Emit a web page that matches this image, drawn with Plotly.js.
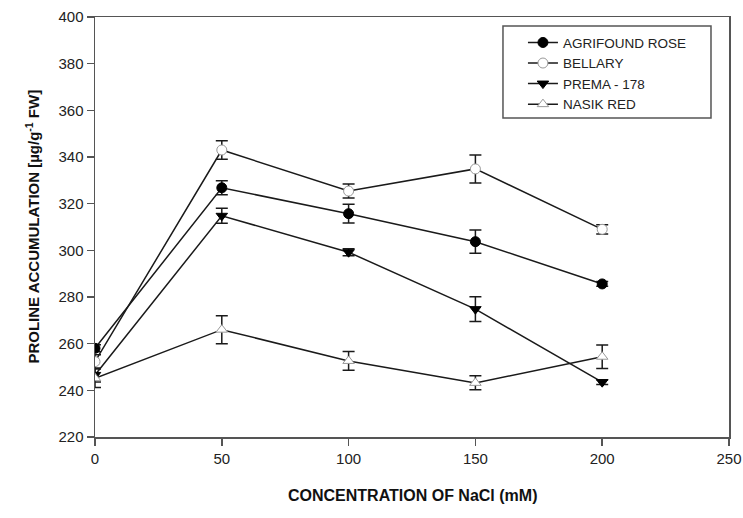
<!DOCTYPE html>
<html>
<head>
<meta charset="utf-8">
<script src="https://cdn.plot.ly/plotly-3.0.1.min.js"></script>
<style>html,body{margin:0;padding:0;background:#fff;}#chart{width:743px;height:518px;}</style>
</head>
<body>
<div id="chart"></div>
<script>
// NaCl concentration (mM)
const nacl = [0, 50, 100, 150, 200];

// Proline accumulation (µg/g FW) per variety, with error bars
const agrifoundRose = [258.0, 326.8, 315.7, 303.7, 285.6];
const agrifoundRoseErr = [1.5, 3.0, 4.0, 5.0, 1.0];

const bellary = [252.3, 343.0, 325.4, 334.9, 309.0];
const bellaryErr = [3.0, 4.0, 3.0, 6.0, 2.0];

const prema178 = [246.6, 314.8, 299.2, 274.8, 243.5];
const prema178Err = [3.0, 3.2, 1.5, 5.3, 1.0];

const nasikRed = [245.2, 266.0, 252.6, 243.2, 254.4];
const nasikRedErr = [4.0, 6.0, 4.0, 3.0, 5.0];

const seriesNames = ["AGRIFOUND ROSE", "BELLARY", "PREMA - 178", "NASIK RED"];

const lineStyle = {color: '#1a1a1a', width: 1.5};
const errStyle = (arr) => ({type: 'data', array: arr, visible: true, color: '#1a1a1a', thickness: 1.5, width: 6});

const traces = [
  {x: nacl, y: agrifoundRose, error_y: errStyle(agrifoundRoseErr), name: seriesNames[0],
   mode: 'lines+markers', line: lineStyle,
   marker: {symbol: 'circle', size: 10, color: '#000', line: {color: '#000', width: 1}}},
  {x: nacl, y: bellary, error_y: errStyle(bellaryErr), name: seriesNames[1],
   mode: 'lines+markers', line: lineStyle,
   marker: {symbol: 'circle', size: 10, color: '#fff', line: {color: '#999', width: 1}}},
  {x: nacl, y: prema178, error_y: errStyle(prema178Err), name: seriesNames[2],
   mode: 'lines+markers', line: lineStyle,
   marker: {symbol: 'triangle-down', size: 10, color: '#000', line: {color: '#000', width: 1}}},
  {x: nacl, y: nasikRed, error_y: errStyle(nasikRedErr), name: seriesNames[3],
   mode: 'lines+markers', line: lineStyle,
   marker: {symbol: 'triangle-up', size: 10, color: '#fff', line: {color: '#999', width: 1}}}
];

const fam = 'Liberation Sans, Arial, sans-serif';
const tickFont = {family: fam, size: 15, color: '#222'};

const layout = {
  width: 743, height: 518,
  margin: {l: 95, r: 14, t: 17, b: 81},
  paper_bgcolor: '#fff', plot_bgcolor: '#fff',
  showlegend: true,
  legend: {
    x: 0.675, y: 0.865, xanchor: 'left', yanchor: 'middle',
    bgcolor: 'rgba(0,0,0,0)', borderwidth: 0,
    font: {family: fam, size: 13.5, color: '#222'},
    tracegroupgap: 0
  },
  xaxis: {
    range: [0, 250], tickvals: [0, 50, 100, 150, 200, 250],
    showgrid: false, zeroline: false,
    showline: true, linecolor: '#555', linewidth: 1.5, mirror: true,
    ticks: 'outside', ticklen: 7, tickwidth: 1.5, tickcolor: '#555',
    tickfont: tickFont
  },
  yaxis: {
    range: [220, 400], tickvals: [220, 240, 260, 280, 300, 320, 340, 360, 380, 400],
    showgrid: false, zeroline: false,
    showline: true, linecolor: '#555', linewidth: 1.5, mirror: true,
    ticks: 'outside', ticklen: 7, tickwidth: 1.5, tickcolor: '#555',
    tickfont: tickFont
  },
  shapes: [{
    type: 'rect', xref: 'paper', yref: 'paper',
    x0: 0.6435, x1: 0.9716, y0: 0.7595, y1: 0.9786,
    line: {color: '#555', width: 1.5}, fillcolor: 'rgba(0,0,0,0)'
  }],
  annotations: [
    {text: '<b>PROLINE ACCUMULATION [µg/g<sup>-1</sup> FW]</b>', xref: 'paper', yref: 'paper',
     x: -0.1, y: 0.5, xanchor: 'center', yanchor: 'middle', textangle: -90, showarrow: false,
     font: {family: fam, size: 15, color: '#111'}},
    {text: '<b>CONCENTRATION OF NaCl (mM)</b>', xref: 'paper', yref: 'paper',
     x: 0.5, y: -0.14, xanchor: 'center', yanchor: 'middle', showarrow: false,
     font: {family: fam, size: 16, color: '#111'}}
  ]
};

Plotly.newPlot('chart', traces, layout, {displayModeBar: false, staticPlot: true});
</script>
</body>
</html>
